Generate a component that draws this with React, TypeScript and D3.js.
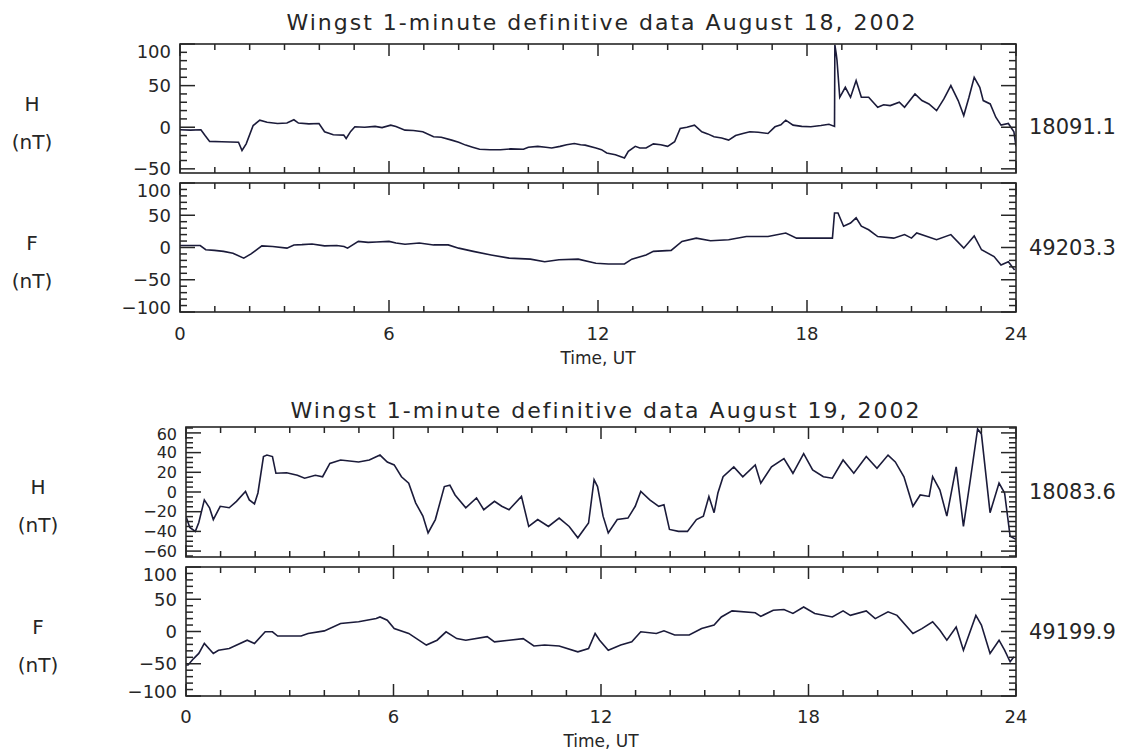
import * as d3 from 'd3'

const W = 1122
const H = 752
const FONT = '"DejaVu Sans", sans-serif'
const INK = '#262626'
const LINE = '#1b1b3a'

// time (UT hours), deviation in nT from the baseline printed at the right
const H_AUG18: [number, number][] = [
  [0, -3], [0.3, -3.5], [0.6, -3], [0.72, -10], [0.85, -17], [1.2, -17.5], [1.68, -18], [1.78, -28],
  [1.9, -20], [2.1, 2], [2.29, 8.5], [2.5, 6], [2.8, 4.5], [3.07, 5], [3.27, 9], [3.4, 5], [3.7, 4],
  [3.99, 4.5], [4.15, -5.5], [4.4, -9], [4.7, -9.5], [4.77, -13.5], [4.9, -5], [5.02, 0.5], [5.3, 0],
  [5.6, 1], [5.8, -0.5], [6.05, 2.5], [6.2, 1], [6.46, -3.5], [6.7, -4], [6.97, -5.5], [7.28, -11.5],
  [7.5, -12], [7.8, -15.5], [8.0, -18], [8.2, -21.5], [8.4, -24], [8.6, -26.5], [8.9, -27], [9.2, -27],
  [9.5, -26], [9.86, -26.5], [10.0, -24], [10.27, -23], [10.5, -24], [10.67, -25], [10.91, -23],
  [11.1, -21], [11.32, -19.5], [11.5, -21], [11.63, -21.5], [11.94, -25], [12.1, -27], [12.25, -31],
  [12.5, -33], [12.76, -37], [12.87, -29], [13.07, -23], [13.2, -25], [13.38, -25], [13.59, -20],
  [13.8, -21], [14.0, -23], [14.2, -17.5], [14.36, -1.5], [14.55, 0], [14.77, 2.5], [14.98, -5.5],
  [15.15, -8], [15.33, -11.5], [15.55, -13], [15.75, -15.5], [15.95, -10], [16.16, -7.5], [16.36, -5.5],
  [16.6, -6], [16.88, -7.5], [17.08, 0.5], [17.25, 3], [17.39, 8.5], [17.6, 2.5], [17.85, 1],
  [18.11, 0.5], [18.4, 2], [18.63, 3.5], [18.79, 1], [18.8, 99], [18.84, 88], [18.86, 81], [18.94, 36],
  [19.1, 48], [19.25, 36], [19.41, 56], [19.56, 36], [19.77, 36], [20.03, 24], [20.2, 27], [20.39, 26],
  [20.65, 30], [20.8, 24], [21.1, 40], [21.3, 32], [21.5, 28], [21.72, 20], [21.93, 34], [22.13, 50],
  [22.34, 32], [22.5, 14], [22.65, 36], [22.8, 60], [22.96, 48], [23.06, 32], [23.26, 28], [23.42, 12],
  [23.57, 2.5], [23.78, 4.5], [23.94, -5.5], [24, -23],
]

const F_AUG18: [number, number][] = [
  [0, 3], [0.3, 3], [0.58, 3], [0.74, -3.5], [0.99, -4.5], [1.25, -6], [1.52, -9], [1.83, -16.5],
  [2.04, -10], [2.35, 2.5], [2.66, 1.5], [3.07, -1], [3.27, 4], [3.5, 4.5], [3.79, 5.5], [4.15, 2.5],
  [4.5, 3], [4.71, 1.5], [4.81, -1], [5.12, 9.5], [5.4, 8], [5.64, 8.5], [6.0, 9.5], [6.2, 7],
  [6.46, 5], [6.87, 7], [7.28, 4], [7.7, 4], [8.0, -1], [8.42, -6], [8.93, -11.5], [9.45, -16.5],
  [10.06, -18], [10.47, -22], [10.88, -19], [11.43, -18], [11.94, -24.5], [12.3, -25.5], [12.76, -25.5],
  [12.97, -18], [13.38, -11.5], [13.59, -6], [14.1, -4.5], [14.41, 9.5], [14.82, 14.5], [15.23, 10.5],
  [15.75, 12], [16.26, 17], [16.88, 17], [17.39, 22.5], [17.7, 14.5], [18.2, 14.5], [18.73, 14.5],
  [18.79, 53.5], [18.89, 53.5], [19.05, 33], [19.25, 38], [19.41, 46], [19.56, 33], [19.77, 27.5],
  [20.03, 17], [20.49, 14.5], [20.8, 20], [21.0, 14.5], [21.15, 22.5], [21.72, 12], [22.13, 20],
  [22.5, -1], [22.8, 18], [23.01, -3.5], [23.37, -14], [23.57, -27], [23.78, -22], [23.96, -35],
]

const H_AUG19: [number, number][] = [
  [0, -25], [0.11, -36], [0.27, -40], [0.37, -31], [0.53, -8], [0.68, -16], [0.79, -28], [0.99, -14.5],
  [1.25, -16], [1.46, -9.5], [1.72, 0.5], [1.83, -8], [1.98, -12], [2.08, -1], [2.24, 36], [2.34, 37.5],
  [2.5, 36], [2.6, 19], [2.91, 19.5], [3.22, 17], [3.43, 14], [3.74, 17], [3.95, 15.5], [4.16, 29],
  [4.47, 32.5], [4.99, 30.5], [5.3, 32.5], [5.61, 37.5], [5.82, 30.5], [6.02, 27.5], [6.23, 15.5],
  [6.44, 9], [6.64, -11], [6.85, -24.5], [7.0, -41.5], [7.21, -28], [7.47, 5.5], [7.63, 7], [7.78, -3],
  [8.09, -16], [8.4, -6], [8.61, -18], [8.92, -9.5], [9.13, -14.5], [9.34, -18], [9.7, -4.5],
  [9.91, -35], [10.17, -28], [10.48, -35], [10.79, -26.5], [11.08, -35], [11.33, -46.5], [11.64, -31.5],
  [11.8, 12.5], [11.9, 5.5], [12.06, -24.5], [12.21, -41.5], [12.47, -28], [12.78, -26.5], [12.99, -14.5],
  [13.15, 0.5], [13.41, -8], [13.67, -14.5], [13.82, -13], [13.98, -38], [14.24, -40], [14.5, -40],
  [14.76, -28], [14.96, -24.5], [15.12, -4.5], [15.27, -21], [15.38, -1], [15.53, 15.5], [15.84, 25.5],
  [16.1, 15.5], [16.46, 27.5], [16.62, 9], [16.93, 25.5], [17.29, 34], [17.55, 19], [17.86, 39],
  [18.12, 22.5], [18.43, 15.5], [18.69, 14], [19.0, 32.5], [19.31, 19], [19.67, 36], [19.98, 24],
  [20.3, 37.5], [20.51, 30.5], [20.76, 15.5], [21.02, -14.5], [21.23, -3], [21.49, -4.5], [21.59, 15.5],
  [21.8, 2], [22.0, -24.5], [22.27, 25.5], [22.48, -35], [22.68, 12.5], [22.89, 64], [23.0, 59],
  [23.25, -21], [23.51, 9], [23.67, -1], [23.83, -45], [24, -48],
]

const F_AUG19: [number, number][] = [
  [0, -52], [0.06, -52], [0.22, -42], [0.37, -34], [0.53, -18.5], [0.79, -34], [0.94, -29], [1.25, -26.5],
  [1.77, -13.5], [1.98, -18.5], [2.29, -0.5], [2.5, -0.5], [2.65, -7], [3.33, -7], [3.53, -3], [4.0, 1],
  [4.47, 12.5], [4.99, 15], [5.5, 20], [5.61, 22.5], [5.82, 17.5], [6.02, 4.5], [6.44, -3], [6.95, -21],
  [7.26, -13.5], [7.52, -0.5], [7.83, -11], [8.09, -13.5], [8.71, -8], [8.92, -16], [9.34, -13.5],
  [9.75, -11], [10.06, -22.5], [10.37, -21], [10.79, -22.5], [11.33, -31.5], [11.64, -26.5], [11.83, -3],
  [11.96, -13.5], [12.21, -29], [12.57, -21], [12.89, -16], [13.15, -0.5], [13.6, -3], [13.82, 1],
  [14.13, -5.5], [14.55, -5.5], [14.91, 4.5], [15.27, 10], [15.48, 22.5], [15.79, 32], [16.46, 29],
  [16.62, 23.5], [16.98, 33], [17.29, 34], [17.55, 28], [17.86, 38], [18.18, 28], [18.69, 22.5],
  [19.0, 32], [19.21, 25], [19.67, 32], [19.93, 20], [20.3, 30.5], [20.56, 25], [21.02, -3],
  [21.28, 4.5], [21.59, 15], [21.8, 2], [22.0, -13.5], [22.27, 7], [22.48, -29], [22.84, 25], [23.0, 10],
  [23.25, -34], [23.51, -13.5], [23.67, -29], [23.83, -47], [23.94, -39],
]

const TITLES = [
  'Wingst 1-minute definitive data August 18, 2002',
  'Wingst 1-minute definitive data August 19, 2002',
]
const BASELINES = ['18091.1', '49203.3', '18083.6', '49199.9']
const COMPONENTS = ['H', 'F', 'H', 'F']
const X_MAJOR = [0, 6, 12, 18, 24]
const H18_TICKS = [-50, 0, 50, 100]
const F_TICKS = [-100, -50, 0, 50, 100]
const H19_TICKS = [-60, -40, -20, 0, 20, 40, 60]

type PanelProps = {
  x: d3.ScaleLinear<number, number>
  top: number
  bottom: number
  domain: [number, number]
  majors: number[]
  minorStep: number
  data: [number, number][]
  comp: string
  base: string
  labelX: number
  labelSize: number
  id: string
}

function Panel({ x, top, bottom, domain, majors, minorStep, data, comp, base, labelX, labelSize, id }: PanelProps) {
  const y = d3.scaleLinear().domain(domain).range([bottom, top])
  const [x0, x1] = x.range()
  const line = d3.line<[number, number]>().x((d) => x(d[0])).y((d) => y(d[1]))
  const minors = d3.range(Math.ceil(domain[0] / minorStep) * minorStep, domain[1] + 0.01, minorStep)
    .filter((v) => !majors.includes(v))
  const hours = d3.range(1, 24).filter((h) => h % 6 !== 0)
  const mid = (top + bottom) / 2

  return (
    <g>
      <clipPath id={id}>
        <rect x={x0} y={top} width={x1 - x0} height={bottom - top} />
      </clipPath>
      <path d={line(data) ?? ''} fill="none" stroke={LINE} strokeWidth={1.6} clipPath={`url(#${id})`} />

      {/* ticks on all four sides, pointing inward */}
      <g stroke={INK} strokeWidth={1.5}>
        {majors.map((v) => (
          <g key={'M' + v}>
            <line x1={x0} x2={x0 + 15} y1={y(v)} y2={y(v)} />
            <line x1={x1} x2={x1 - 15} y1={y(v)} y2={y(v)} />
          </g>
        ))}
        {minors.map((v) => (
          <g key={'m' + v}>
            <line x1={x0} x2={x0 + 7} y1={y(v)} y2={y(v)} />
            <line x1={x1} x2={x1 - 7} y1={y(v)} y2={y(v)} />
          </g>
        ))}
        {X_MAJOR.map((t) => (
          <g key={'X' + t}>
            <line x1={x(t)} x2={x(t)} y1={top} y2={top + 12} />
            <line x1={x(t)} x2={x(t)} y1={bottom} y2={bottom - 12} />
          </g>
        ))}
        {hours.map((t) => (
          <g key={'x' + t}>
            <line x1={x(t)} x2={x(t)} y1={top} y2={top + 6} />
            <line x1={x(t)} x2={x(t)} y1={bottom} y2={bottom - 6} />
          </g>
        ))}
      </g>
      <rect x={x0} y={top} width={x1 - x0} height={bottom - top} fill="none" stroke={INK} strokeWidth={1.6} />

      {majors.map((v) => (
        <text
          key={'l' + v}
          x={x0 - 9}
          y={Math.min(Math.max(y(v), top + 7), bottom - 5)}
          textAnchor="end"
          dominantBaseline="central"
          fontSize={labelSize}
          fontFamily={FONT}
          fill={INK}
        >
          {v < 0 ? '\u2212' + Math.abs(v) : v}
        </text>
      ))}

      <text x={x1 + 13} y={y(0)} dominantBaseline="central" fontSize={21} fontFamily={FONT} fill={INK}>
        {base}
      </text>
      <text x={labelX} y={mid - 5} textAnchor="middle" dominantBaseline="central" fontSize={20} fontFamily={FONT} fill={INK}>
        {comp}
      </text>
      <text x={labelX} y={mid + 33} textAnchor="middle" dominantBaseline="central" fontSize={20} fontFamily={FONT} fill={INK}>
        (nT)
      </text>
    </g>
  )
}

function TimeAxis({ x, y }: { x: d3.ScaleLinear<number, number>; y: number }) {
  const [x0, x1] = x.range()
  return (
    <g fontFamily={FONT} fill={INK}>
      {X_MAJOR.map((t) => (
        <text key={t} x={x(t)} y={y} textAnchor="middle" fontSize={18}>
          {t}
        </text>
      ))}
      <text x={(x0 + x1) / 2} y={y + 24} textAnchor="middle" fontSize={17}>
        Time, UT
      </text>
    </g>
  )
}

export default function App() {
  const xTop = d3.scaleLinear().domain([0, 24]).range([180, 1016])
  const xBot = d3.scaleLinear().domain([0, 24]).range([186, 1016])

  return (
    <svg width={W} height={H} style={{ position: 'absolute', left: 0, top: 0, background: '#fff' }}>
      <rect width={W} height={H} fill="#fff" />

      {/* August 18 */}
      <text x={602} y={30} textAnchor="middle" fontSize={22} letterSpacing={2} fontFamily={FONT} fill={INK}>
        {TITLES[0]}
      </text>
      <Panel id="c0" x={xTop} top={44} bottom={173} domain={[-55, 100]} majors={H18_TICKS} minorStep={10}
        data={H_AUG18} comp={COMPONENTS[0]} base={BASELINES[0]} labelX={32} labelSize={18} />
      <Panel id="c1" x={xTop} top={183} bottom={312} domain={[-100, 100]} majors={F_TICKS} minorStep={10}
        data={F_AUG18} comp={COMPONENTS[1]} base={BASELINES[1]} labelX={32} labelSize={18} />
      <TimeAxis x={xTop} y={340} />

      {/* August 19 */}
      <text x={606} y={418} textAnchor="middle" fontSize={22} letterSpacing={2} fontFamily={FONT} fill={INK}>
        {TITLES[1]}
      </text>
      <Panel id="c2" x={xBot} top={427} bottom={557} domain={[-66, 66]} majors={H19_TICKS} minorStep={5}
        data={H_AUG19} comp={COMPONENTS[2]} base={BASELINES[2]} labelX={38} labelSize={16} />
      <Panel id="c3" x={xBot} top={567} bottom={696} domain={[-100, 100]} majors={F_TICKS} minorStep={10}
        data={F_AUG19} comp={COMPONENTS[3]} base={BASELINES[3]} labelX={38} labelSize={18} />
      <TimeAxis x={xBot} y={723} />
    </svg>
  )
}
